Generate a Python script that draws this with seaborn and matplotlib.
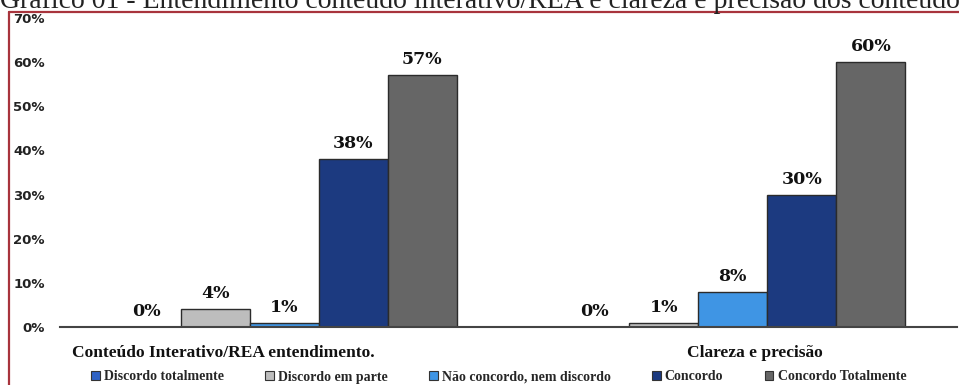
import matplotlib
matplotlib.use("Agg")
import matplotlib.pyplot as plt
import matplotlib.transforms as mtransforms
from matplotlib.lines import Line2D
from matplotlib.patches import Rectangle
import seaborn as sns
import pandas as pd

categories = ["Conteúdo Interativo/REA entendimento.", "Clareza e precisão"]
responses = ["Discordo totalmente", "Discordo em parte", "Não concordo, nem discordo",
             "Concordo", "Concordo Totalmente"]
values_cat1 = [0, 4, 1, 38, 57]
values_cat2 = [0, 1, 8, 30, 60]
colors = ["#2f62c4", "#bdbdbd", "#3f95e4", "#1c3a80", "#666666"]
ytick_values = [0, 10, 20, 30, 40, 50, 60, 70]
title = "Gráfico 01 - Entendimento conteúdo interativo/REA e clareza e precisão dos conteúdos"

rows = []
for cat, vals in zip(categories, [values_cat1, values_cat2]):
    for resp, v in zip(responses, vals):
        rows.append({"categoria": cat, "resposta": resp, "valor": v})
df = pd.DataFrame(rows)

sns.set_theme(style="white")
plt.rcParams["font.family"] = ["DejaVu Sans"]

fig = plt.figure(figsize=(9.59, 3.85), dpi=100)
ax = fig.add_axes([60 / 959, 58 / 385, 897 / 959, 309 / 385])

sns.barplot(data=df, x="categoria", y="valor", hue="resposta", hue_order=responses,
            palette=colors, saturation=1, width=0.77, edgecolor="#2b2b2b", linewidth=1.0,
            legend=False, ax=ax)

# value labels above each bar
for container in ax.containers:
    for bar in container:
        h = bar.get_height()
        ax.annotate(f"{h:.0f}%", (bar.get_x() + bar.get_width() / 2, h),
                    xytext=(0, 5), textcoords="offset points", ha="center", va="bottom",
                    fontsize=12.5, fontweight="bold", family="DejaVu Serif", color="#111111")

ax.set_ylim(0, 70)
ax.set_xlim(-0.5, 1.5)
ax.set_yticks(ytick_values)
ax.set_yticklabels([f"{v}%" for v in ytick_values], fontsize=9.5, fontweight="bold",
                   color="#222222")
ax.tick_params(axis="y", length=0, pad=11)
ax.tick_params(axis="x", which="major", length=0, pad=13)
ax.set_xticks([-0.5, 0.5, 1.5], minor=True)
ax.tick_params(axis="x", which="minor", length=5, width=1.5, color="#444444", direction="out")
label_shifts = [-61, 22]
for lbl, dx in zip(ax.get_xticklabels(), label_shifts):
    lbl.set_fontfamily("Liberation Serif")
    lbl.set_fontweight("bold")
    lbl.set_fontsize(12.5)
    lbl.set_color("#111111")
    lbl.set_transform(lbl.get_transform() +
                      mtransforms.ScaledTranslation(dx / 100, 0, fig.dpi_scale_trans))
ax.set_xlabel("")
ax.set_ylabel("")
for side in ["top", "right", "left"]:
    ax.spines[side].set_visible(False)
ax.spines["bottom"].set_color("#444444")
ax.spines["bottom"].set_linewidth(1.5)
ax.grid(False)

# legend along the bottom
handles = [Rectangle((0, 0), 1, 1, facecolor=c, edgecolor="#333333", linewidth=0.8)
           for c in colors]
fig.legend(handles, responses, loc="center", bbox_to_anchor=(0.52, 8 / 385), ncol=5,
           frameon=False, handlelength=0.6, handleheight=0.6, handletextpad=0.3,
           columnspacing=3.0, borderpad=0,
           prop={"family": "Liberation Serif", "weight": "bold", "size": 10})

# heading along the top edge
fig.text(485 / 959, 1 - 8 / 385, title, ha="center", va="baseline", fontsize=20,
         family="Liberation Serif", color="#222222")

# red frame lines
fig.add_artist(Line2D([9 / 959, 9 / 959], [0, 373 / 385], color="#a8343c", linewidth=1.6,
                      transform=fig.transFigure))
fig.add_artist(Line2D([9 / 959, 1], [373 / 385, 373 / 385], color="#a8343c", linewidth=1.6,
                      transform=fig.transFigure))

fig.savefig("out.png", dpi=100, facecolor="white")
